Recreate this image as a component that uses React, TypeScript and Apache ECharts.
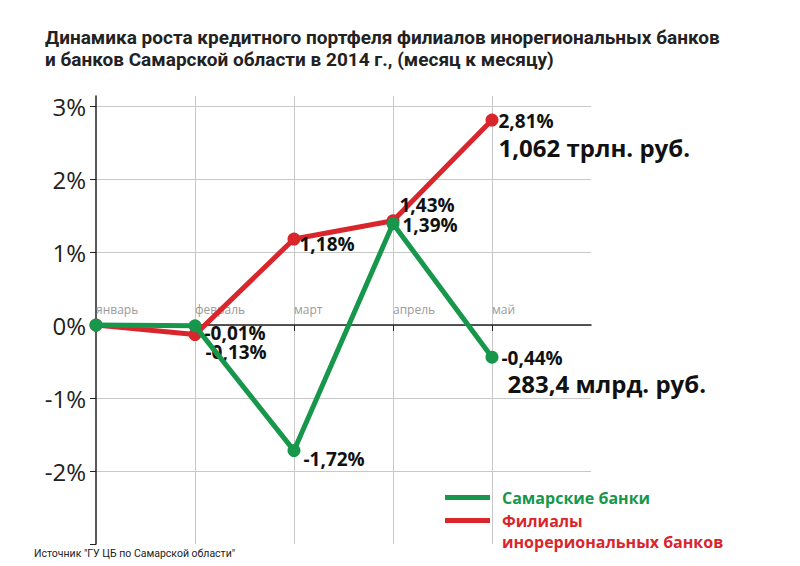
import React, { useEffect, useRef } from "react";
import * as echarts from "echarts";

const months = ["январь", "февраль", "март", "апрель", "май", ""];
const seriesNames = ["Самарские банки", "Филиалы\nинорериональных банков"];
const samaraValues = [0, -0.01, -1.72, 1.39, -0.44];
const branchValues = [0, -0.13, 1.18, 1.43, 2.81];
const samaraTotal = "283,4 млрд. руб.";
const branchTotal = "1,062 трлн. руб.";
const titleLines = [
  "Динамика роста кредитного портфеля филиалов инорегиональных банков",
  "и банков Самарской области в 2014 г., (месяц к месяцу)",
];
const sourceText = 'Источник "ГУ ЦБ по Самарской области"';

const GREEN = "#17974b";
const RED = "#d8262c";
const LABEL_FONT = "Open Sans";

const fmtPct = (v: number) => v.toFixed(2).replace(".", ",") + "%";

// label offsets per point (style only)
const samaraOffsets: (number[] | null)[] = [null, [1, 7], [1, 8], [1, 1], [1, -10]];
const branchOffsets: (number[] | null)[] = [null, [2, 17], [-3, 5], [-2, -16], [-2, -11]];

function buildData(values: number[], offsets: (number[] | null)[], total: string, isGreen: boolean) {
  return values.map((v, i) => {
    const off = offsets[i];
    if (!off) return { value: v, label: { show: false } };
    const last = i === values.length - 1;
    if (last) {
      return {
        value: v,
        label: {
          show: true,
          position: "right",
          distance: 2,
          offset: off,
          align: "left",
          verticalAlign: "top",
          formatter: () => `{p|${fmtPct(v)}}\n{s|${total}}`,
          rich: {
            p: { fontSize: 19, fontWeight: "bold", fontFamily: LABEL_FONT, color: "#111", lineHeight: isGreen ? 22 : 24 },
            s: {
              fontSize: 24,
              fontWeight: "bold",
              fontFamily: LABEL_FONT,
              color: "#111",
              lineHeight: 28,
              padding: isGreen ? [0, 0, 0, 6] : [0, 0, 0, 0],
            },
          },
        },
      };
    }
    return {
      value: v,
      label: {
        show: true,
        position: "right",
        distance: 2,
        offset: off,
        formatter: () => fmtPct(v),
      },
    };
  });
}

export default function App() {
  const ref = useRef<HTMLDivElement>(null);
  useEffect(() => {
    if (!ref.current) return;
    const chart = echarts.init(ref.current, undefined, { renderer: "svg" });
    const labelStyle = {
      fontSize: 19,
      fontWeight: "bold",
      fontFamily: LABEL_FONT,
      color: "#111",
    };
    const legendText = { fontSize: 16, fontWeight: "bold", fontFamily: LABEL_FONT, lineHeight: 21 };
    chart.setOption({
      animation: false,
      backgroundColor: "#fff",
      title: {
        text: titleLines.join("\n"),
        left: 45,
        top: 26,
        padding: 0,
        textStyle: {
          fontSize: 19,
          fontWeight: "bold",
          fontFamily: "Roboto",
          color: "#222",
          lineHeight: 22,
        },
      },
      legend: [
        {
          data: [{ name: seriesNames[0], textStyle: { color: GREEN, padding: [0, 0, 0, 7] } }],
          left: 445,
          top: 487,
          padding: 0,
          orient: "vertical",
          icon: "rect",
          itemWidth: 45,
          itemHeight: 5,
          textStyle: legendText,
        },
        {
          data: [{ name: seriesNames[1], textStyle: { color: RED, padding: [0, 0, 0, 7] } }],
          formatter: (name: string) => "\n" + name,
          left: 445,
          top: 489,
          padding: 0,
          orient: "vertical",
          icon: "rect",
          itemWidth: 45,
          itemHeight: 5,
          textStyle: legendText,
        },
      ],
      grid: { left: 96, right: 209, top: 96, bottom: 22 },
      xAxis: {
        type: "category",
        data: months,
        boundaryGap: false,
        offset: -219,
        axisLine: { onZero: false, lineStyle: { color: "#222", width: 1.5 } },
        axisTick: {
          show: true,
          length: 6,
          lineStyle: { color: "#222" },
          interval: (i: number) => i > 0 && i < months.length - 1,
        },
        axisLabel: {
          inside: true,
          align: "left",
          margin: 10,
          color: "#9a9a9a",
          fontSize: 12,
          fontFamily: LABEL_FONT,
          interval: 0,
        },
        splitLine: {
          show: true,
          interval: (i: number) => i > 0 && i < months.length - 1,
          lineStyle: { color: "#c8c8c8", width: 1 },
        },
      },
      yAxis: {
        type: "value",
        min: -3,
        max: 3.14,
        interval: 1,
        axisLine: { show: true, lineStyle: { color: "#222", width: 1.5 } },
        axisTick: { show: true, length: 6, lineStyle: { color: "#222" } },
        axisLabel: {
          fontSize: 24,
          fontFamily: LABEL_FONT,
          color: "#222",
          margin: 10,
          showMaxLabel: false,
          formatter: (v: number) => (Number.isInteger(v) && v > -3 ? `${v}%` : ""),
        },
        splitLine: {
          show: true,
          lineStyle: {
            color: ["transparent", "#c8c8c8", "#c8c8c8", "#c8c8c8", "#c8c8c8", "#c8c8c8", "#c8c8c8"],
            width: 1,
          },
        },
      },
      series: [
        {
          name: seriesNames[0],
          type: "line",
          z: 3,
          data: buildData(samaraValues, samaraOffsets, samaraTotal, true),
          symbol: "circle",
          symbolSize: 13,
          lineStyle: { color: GREEN, width: 5 },
          itemStyle: { color: GREEN },
          label: labelStyle,
        },
        {
          name: seriesNames[1],
          type: "line",
          z: 2,
          data: buildData(branchValues, branchOffsets, branchTotal, false),
          symbol: "circle",
          symbolSize: 13,
          lineStyle: { color: RED, width: 5 },
          itemStyle: { color: RED },
          label: labelStyle,
        },
      ],
      graphic: [
        {
          type: "text",
          left: 34,
          top: 548,
          style: {
            text: sourceText,
            fontSize: 10.5,
            fontFamily: "Roboto",
            fill: "#222",
          },
        },
      ],
    });
    return () => chart.dispose();
  }, []);
  return <div ref={ref} style={{ position: "absolute", left: 0, top: 0, width: 800, height: 566 }} />;
}
